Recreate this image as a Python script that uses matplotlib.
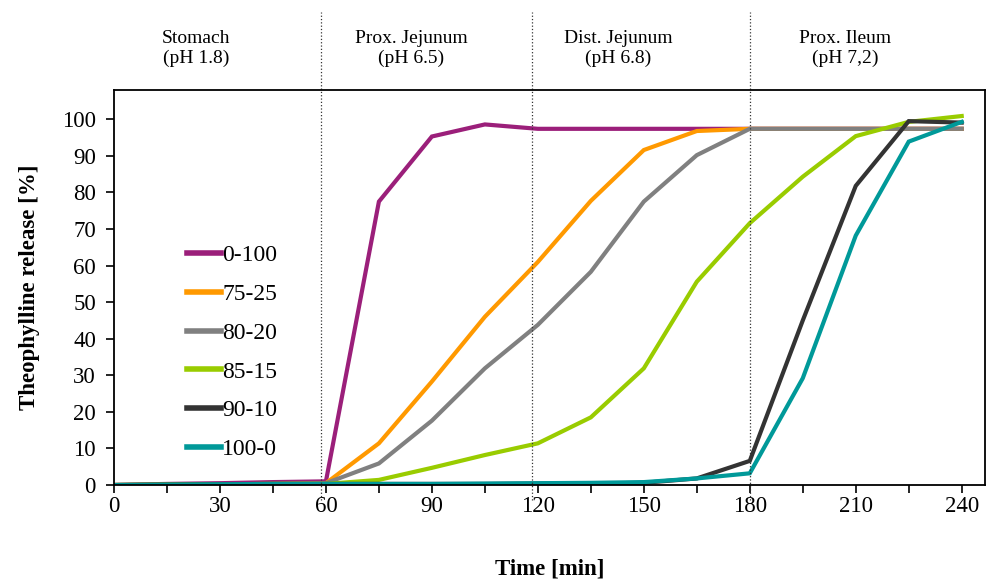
import matplotlib.pyplot as plt
import matplotlib.transforms as mtransforms
from matplotlib.ticker import MultipleLocator

# data
time = [0, 15, 30, 45, 60, 75, 90, 105, 120, 135, 150, 165, 180, 195, 210, 225, 240]
labels = ['0-100', '75-25', '80-20', '85-15', '90-10', '100-0']
colors = ['#9B1F7A', '#FF9900', '#808080', '#99CC00', '#333333', '#009999']
r_0_100 = [0, 0.3, 0.5, 0.8, 1.0, 77.5, 95.3, 98.6, 97.4, 97.4, 97.4, 97.4, 97.4, 97.4, 97.4, 97.4, 97.4]
r_75_25 = [0, 0.1, 0.2, 0.3, 0.5, 11.4, 28.3, 46.0, 61.0, 77.7, 91.6, 96.8, 97.4, 97.4, 97.4, 97.4, 97.4]
r_80_20 = [0, 0.1, 0.2, 0.3, 0.5, 5.9, 17.6, 31.9, 43.8, 58.3, 77.5, 90.2, 97.4, 97.4, 97.4, 97.4, 97.4]
r_85_15 = [0, 0.1, 0.2, 0.3, 0.3, 1.4, 4.7, 8.2, 11.4, 18.5, 31.9, 55.6, 71.6, 84.3, 95.4, 99.3, 100.9]
r_90_10 = [0, 0.1, 0.2, 0.3, 0.3, 0.3, 0.3, 0.3, 0.4, 0.4, 0.6, 1.8, 6.6, 45.0, 81.8, 99.5, 99.1]
r_100_0 = [0, 0.1, 0.2, 0.3, 0.3, 0.3, 0.3, 0.4, 0.5, 0.6, 0.8, 1.8, 3.2, 29.2, 68.2, 93.9, 99.3]
series = [r_0_100, r_75_25, r_80_20, r_85_15, r_90_10, r_100_0]

zone_lines = [58.7, 118.3, 180.2]
zone_names = ['Stomach\n(pH 1.8)', 'Prox. Jejunum\n(pH 6.5)', 'Dist. Jejunum\n(pH 6.8)', 'Prox. Ileum\n(pH 7,2)']
zone_x = [23.2, 84.2, 142.7, 207.0]

plt.rcParams['font.family'] = ['Liberation Serif', 'DejaVu Serif']

fig = plt.figure(figsize=(9.87, 5.81), dpi=100)
ax = fig.add_axes([0.1155, 0.1652, 0.8825, 0.6798])

for y, lab, c in zip(series, labels, colors):
    ax.plot(time, y, color=c, lw=3, label=lab, solid_joinstyle='miter')

ax.set_xlim(0, 246.6)
ax.set_ylim(0, 108)
ax.xaxis.set_major_locator(MultipleLocator(30))
ax.xaxis.set_minor_locator(MultipleLocator(15))
ax.set_yticks(range(0, 101, 10))
ax.tick_params(which='both', direction='out', length=6, width=1.2, labelsize=16.5)
ax.tick_params(axis='x', pad=2)
ax.tick_params(axis='y', pad=7)
for s in ax.spines.values():
    s.set_linewidth(1.3)

ax.set_xlabel('Time [min]', fontsize=16.5, fontweight='bold', labelpad=30)
ax.set_ylabel('Theophylline release [%]', fontsize=16.5, fontweight='bold', labelpad=16)

# zone separators and labels
trans = mtransforms.blended_transform_factory(ax.transData, ax.transAxes)
for xv in zone_lines:
    ax.plot([xv, xv], [-0.038, 1.197], transform=trans, clip_on=False,
            ls=':', color='#333333', lw=0.9)
for xv, name in zip(zone_x, zone_names):
    ax.text(xv, 1.105, name, transform=trans, ha='center', va='center',
            fontsize=14, linespacing=1.15)

leg = ax.legend(loc='upper left', bbox_to_anchor=(0.07, 0.638), frameon=False,
                fontsize=17, handlelength=1.45, handletextpad=0.05,
                labelspacing=0.73, borderpad=0)
for ln in leg.get_lines():
    ln.set_linewidth(4)

fig.savefig('out.png', dpi=100)
